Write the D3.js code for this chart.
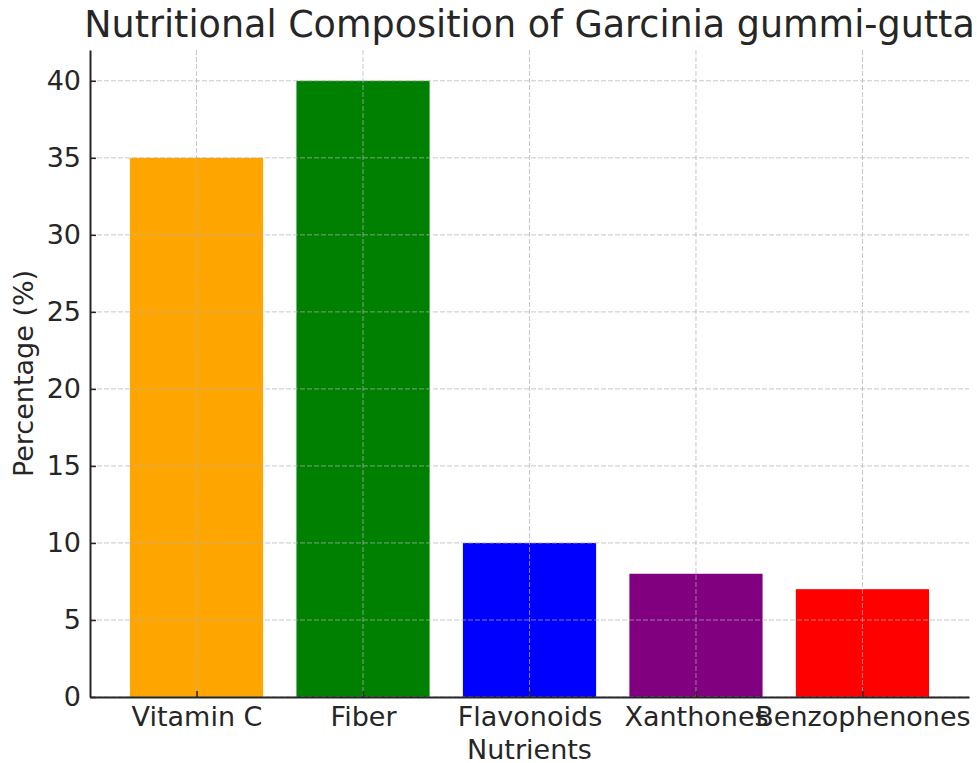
<!DOCTYPE html>
<html>
<head>
<meta charset="utf-8">
<script src="https://cdn.jsdelivr.net/npm/d3@7"></script>
<style>
  body { margin: 0; background: #fff; }
  text { font-family: "DejaVu Sans", sans-serif; fill: #262626; }
</style>
</head>
<body>
<svg id="chart" width="977" height="763"></svg>
<script>
// data
var nutrients = ['Vitamin C', 'Fiber', 'Flavonoids', 'Xanthones', 'Benzophenones'];
var percentages = [35, 40, 10, 8, 7];
var barColors = ['orange', 'green', 'blue', 'purple', 'red'];
var yTicks = [0, 5, 10, 15, 20, 25, 30, 35, 40];

var margin = {top: 50, right: 8, bottom: 66, left: 90};
var width = 977 - margin.left - margin.right,
    height = 763 - margin.top - margin.bottom;

var svg = d3.select('#chart');
var g = svg.append('g')
    .attr('transform', 'translate(' + margin.left + ',' + margin.top + ')');

// matplotlib-like continuous x: bars at 0..n-1, width 0.8, xlim padded
var x = d3.scaleLinear()
    .domain([-0.64, nutrients.length - 1 + 0.64])
    .range([0, width]);
var y = d3.scaleLinear()
    .domain([0, 42])
    .range([height, 0]);

var barW = x(0.4) - x(0);

g.selectAll('rect.bar')
    .data(percentages)
    .enter()
    .append('rect')
    .attr('class', 'bar')
    .attr('x', function (d, i) { return x(i) - barW; })
    .attr('width', barW * 2)
    .attr('y', function (d) { return y(d); })
    .attr('height', function (d) { return height - y(d); })
    .attr('fill', function (d, i) { return barColors[i]; });

// grid on top of bars
g.append('g')
    .selectAll('line')
    .data(yTicks)
    .enter()
    .append('line')
    .attr('x1', 0).attr('x2', width)
    .attr('y1', function (d) { return y(d); })
    .attr('y2', function (d) { return y(d); })
    .attr('stroke', '#b0b0b0').attr('stroke-opacity', 0.7)
    .attr('stroke-dasharray', '5,2').attr('stroke-width', 1);

g.append('g')
    .selectAll('line')
    .data(nutrients)
    .enter()
    .append('line')
    .attr('x1', function (d, i) { return x(i); })
    .attr('x2', function (d, i) { return x(i); })
    .attr('y1', 0).attr('y2', height)
    .attr('stroke', '#b0b0b0').attr('stroke-opacity', 0.7)
    .attr('stroke-dasharray', '5,2').attr('stroke-width', 1);

// axes with inward ticks
var yAxis = g.append('g')
    .call(d3.axisLeft(y).tickValues(yTicks).tickSizeInner(-6).tickSizeOuter(0).tickPadding(9));
var xAxis = g.append('g')
    .attr('transform', 'translate(0,' + height + ')')
    .call(d3.axisBottom(x)
        .tickValues(d3.range(nutrients.length))
        .tickFormat(function (i) { return nutrients[i]; })
        .tickSizeInner(-6).tickSizeOuter(0).tickPadding(10));

[yAxis, xAxis].forEach(function (ax) {
    ax.select('.domain').attr('stroke', '#262626').attr('stroke-width', 2);
    ax.selectAll('.tick line').attr('stroke', '#262626').attr('stroke-width', 1.5);
    ax.selectAll('.tick text').style('font-size', '27px').attr('fill', '#262626');
});

// labels
svg.append('text')
    .attr('x', margin.left + width / 2)
    .attr('y', 37)
    .attr('text-anchor', 'middle')
    .style('font-size', '36.5px')
    .text('Nutritional Composition of Garcinia gummi-gutta');

svg.append('text')
    .attr('x', margin.left + width / 2)
    .attr('y', 759)
    .attr('text-anchor', 'middle')
    .style('font-size', '27px')
    .text('Nutrients');

svg.append('text')
    .attr('transform', 'translate(33,' + (margin.top + height / 2) + ') rotate(-90)')
    .attr('text-anchor', 'middle')
    .style('font-size', '27px')
    .text('Percentage (%)');
</script>
</body>
</html>
